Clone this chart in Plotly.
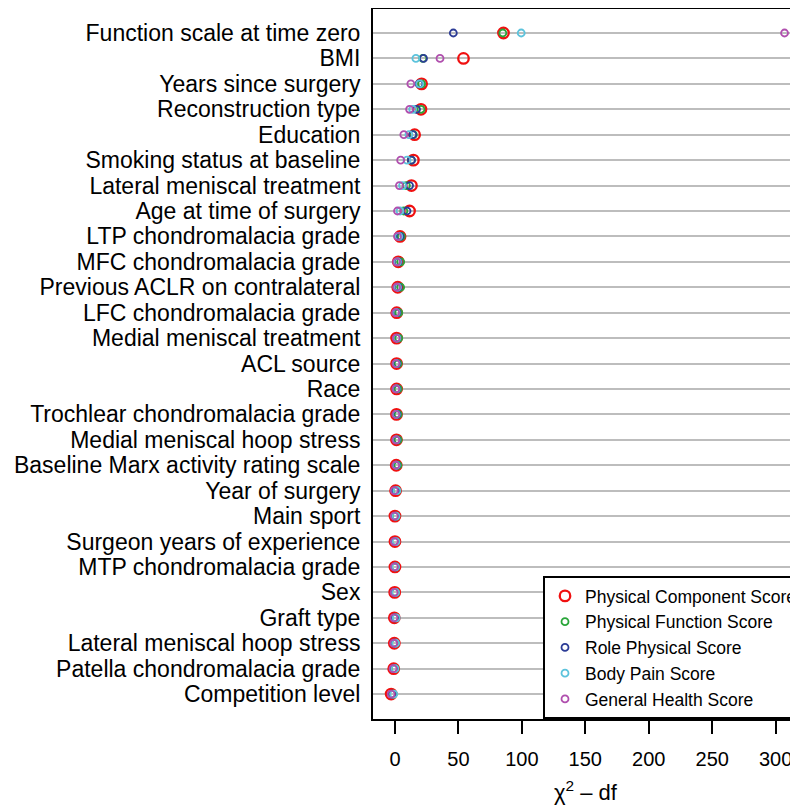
import plotly.graph_objects as go

categories = [
    "Function scale at time zero", "BMI", "Years since surgery", "Reconstruction type",
    "Education", "Smoking status at baseline", "Lateral meniscal treatment",
    "Age at time of surgery", "LTP chondromalacia grade", "MFC chondromalacia grade",
    "Previous ACLR on contralateral", "LFC chondromalacia grade", "Medial meniscal treatment",
    "ACL source", "Race", "Trochlear chondromalacia grade", "Medial meniscal hoop stress",
    "Baseline Marx activity rating scale", "Year of surgery", "Main sport",
    "Surgeon years of experience", "MTP chondromalacia grade", "Sex", "Graft type",
    "Lateral meniscal hoop stress", "Patella chondromalacia grade", "Competition level",
]

pcs = [85.5, 54, 21, 20.5, 15.5, 14.5, 13, 11.5, 4.0, 2.6, 2.2, 1.4, 1.3, 1.3, 1.3, 1.2, 1.2,
       1.0, 0.5, 0.0, 0.0, 0.0, -0.2, -0.5, -0.5, -1.0, -3.0]
pf = [85, 22, 21, 20.5, 14.5, 13, 9, 7, 5, 4.5, 4.5, 3, 3, 2.5, 2.5, 2.5, 2.5,
      2.3, 1.5, 0.8, 0.5, 0.5, 0.5, 0.3, 0.3, 0.0, -1.5]
rp = [46, 22.5, 19, 17, 14, 13, 11.5, 9.5, 4, 2.5, 2.5, 1.5, 1.5, 1.5, 1.3, 1.5, 1.3,
      1.2, 0.5, 0.0, 0.0, 0.0, -0.2, -0.3, -0.5, -1.0, -2.5]
bp = [99.5, 16.5, 19.5, 14, 11, 9.5, 6, 4, 3, 2, 2, 1, 1.5, 1, 1, 1, 1,
      1, 1.5, 0.8, 0.8, 0.5, 0.5, 1.0, 0.5, 0.0, -1.0]
gh = [307, 35.5, 12.5, 11.5, 7, 4.5, 3.5, 2, 2, 1.3, 1.3, 0.5, 1, 0.8, 0.7, 0.7, 0.7,
      0.6, -0.5, -0.5, -0.5, -0.5, -0.7, -0.8, -1.0, -1.5, -3.0]

series_names = ["Physical Component Score", "Physical Function Score", "Role Physical Score",
                "Body Pain Score", "General Health Score"]
series_values = [pcs, pf, rp, bp, gh]

x_ticks = [0, 50, 100, 150, 200, 250, 300]

colors = ["#f01010", "#2aa63a", "#2c3c96", "#5cc3dc", "#b04fae"]
sizes = [10.5, 7, 7, 7, 7]
widths = [2.3, 1.8, 1.8, 1.8, 1.8]

fig = go.Figure()
for name, vals, color, size, lw in zip(series_names, series_values, colors, sizes, widths):
    fig.add_trace(go.Scatter(
        x=vals, y=categories, mode="markers", name=name,
        marker=dict(symbol="circle-open", size=size, color=color,
                    line=dict(width=lw, color=color)),
    ))

# the page body adds an 8px offset, so the figure is 8px smaller than the window
W, H = 790, 797
ML, MT, MB = 365, 1, 86
font_family = "Liberation Sans, Arial, Helvetica, sans-serif"
fig.update_layout(
    width=W, height=H,
    margin=dict(l=ML, r=0, t=MT, b=MB, autoexpand=False),
    plot_bgcolor="white", paper_bgcolor="white",
    font=dict(family=font_family, color="black"),
    showlegend=True,
    legend=dict(
        x=(535 - ML) / (W - ML), y=0, xanchor="left", yanchor="bottom",
        bgcolor="white", bordercolor="black", borderwidth=2,
        font=dict(size=17.5, color="black"),
        tracegroupgap=0, itemwidth=30,
    ),
    xaxis=dict(
        range=[-17.3, 317.6], tickvals=x_ticks, ticktext=[str(v) for v in x_ticks],
        showgrid=False, zeroline=False,
        showline=True, linecolor="black", linewidth=2, mirror=True,
        ticks="outside", ticklen=13, tickwidth=2, tickcolor="black",
        tickfont=dict(size=20), ticklabelstandoff=8,
        title=dict(text="χ<sup>2</sup> – df", font=dict(size=22), standoff=18),
    ),
    yaxis=dict(
        type="category", categoryorder="array", categoryarray=categories,
        tickmode="array", tickvals=categories, ticktext=categories,
        range=[26.98, -0.944],
        showgrid=True, gridcolor="#bdbdbd", gridwidth=2, zeroline=False,
        showline=True, linecolor="black", linewidth=2,
        ticks="", tickfont=dict(size=23), ticklabelstandoff=6,
    ),
)

fig.write_html("out.html")
